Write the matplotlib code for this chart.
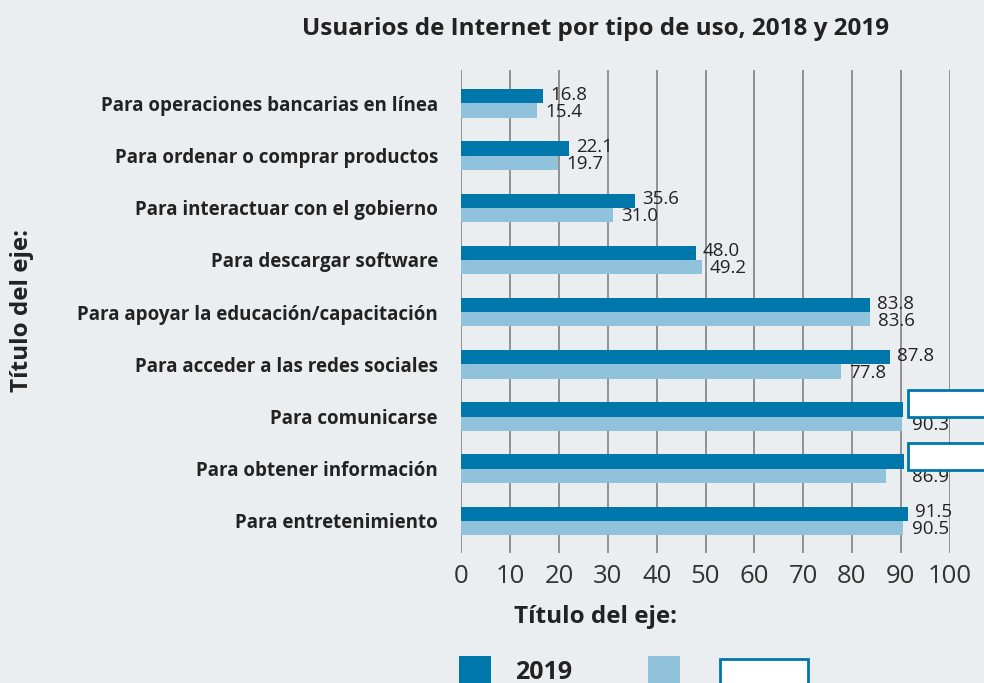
"""Usuarios de Internet por tipo de uso, 2018 y 2019 (horizontal grouped bars)."""

import matplotlib

matplotlib.use("Agg")
import matplotlib.pyplot as plt  # noqa: E402
from matplotlib.patches import Rectangle  # noqa: E402

categories = [
    "Para entretenimiento",
    "Para obtener información",
    "Para comunicarse",
    "Para acceder a las redes sociales",
    "Para apoyar la educación/capacitación",
    "Para descargar software",
    "Para interactuar con el gobierno",
    "Para ordenar o comprar productos",
    "Para operaciones bancarias en línea",
]
vals_2019 = [91.5, 90.6, 90.5, 87.8, 83.8, 48.0, 35.6, 22.1, 16.8]
vals_2018 = [90.5, 86.9, 90.3, 77.8, 83.6, 49.2, 31.0, 19.7, 15.4]
# 2019 labels hidden behind the empty boxes in the original
show_2019 = [True, False, False, True, True, True, True, True, True]
xticks = [0, 10, 20, 30, 40, 50, 60, 70, 80, 90, 100]

BG = "#EBEEF0"
DARK = "#0077AA"
LIGHT = "#90C2DB"
TXT = "#222222"
FONT = ["Open Sans", "DejaVu Sans"]

plt.rcParams["font.family"] = FONT

fig = plt.figure(figsize=(9.84, 6.83), dpi=100, facecolor=BG)
ax = fig.add_axes([0.469, 0.190, 0.496, 0.7075])
ax.set_facecolor(BG)

h = 0.272
y = list(range(len(categories)))
ax.barh([i + h / 2 for i in y], vals_2019, h, color=DARK, zorder=3)
ax.barh([i - h / 2 for i in y], vals_2018, h, color=LIGHT, zorder=3)

for i, (a, b, s) in enumerate(zip(vals_2019, vals_2018, show_2019)):
    if s:
        ax.annotate(f"{a:.1f}", (a, i + h / 2), xytext=(5, 1), textcoords="offset points",
                    ha="left", va="center", fontsize=13.5, color=TXT, zorder=4)
    # light label pushed right of the dark bar where the box sits beside it
    bx = b if s else max(a, b)
    ax.annotate(f"{b:.1f}", (bx, i - h / 2), xytext=(6, -1), textcoords="offset points",
                ha="left", va="center", fontsize=13.5, color=TXT, zorder=4)

ax.set_xlim(0, 100)
ax.set_ylim(-0.62, 8.64)
ax.set_xticks(xticks)
ax.set_xticklabels([str(t) for t in xticks], fontsize=18.5, color="#333333")
ax.set_yticks(y)
ax.set_yticklabels(categories, fontsize=13.5, fontweight="bold", color=TXT)
ax.tick_params(axis="both", length=0)
ax.tick_params(axis="x", pad=8)
ax.tick_params(axis="y", pad=17)
ax.grid(axis="x", color="#8A8A8A", lw=1.3, zorder=1)
for sp in ax.spines.values():
    sp.set_visible(False)

fig.text(0.605, 0.958, "Usuarios de Internet por tipo de uso, 2018 y 2019",
         ha="center", va="center", fontsize=17.5, fontweight="bold", color=TXT)
fig.text(0.605, 0.097, "Título del eje:", ha="center", va="center",
         fontsize=17.5, fontweight="bold", color=TXT)
fig.text(0.022, 0.545, "Título del eje:", ha="center", va="center", rotation=90,
         fontsize=17.5, fontweight="bold", color=TXT)

# empty text boxes beside the two rows
for yb in (0.390, 0.312):
    fig.patches.append(Rectangle((0.9228, yb), 0.1, 0.0388, transform=fig.transFigure,
                                 facecolor="white", edgecolor=DARK, lw=2, zorder=5))

# legend along the bottom edge (clipped by the figure)
fig.patches.append(Rectangle((459 / 984, -0.02), 32 / 984, 0.059, transform=fig.transFigure,
                             facecolor=DARK, edgecolor="none"))
fig.text(515 / 984, 0.016, "2019", ha="left", va="center", fontsize=18,
         fontweight="bold", color=TXT)
fig.patches.append(Rectangle((648 / 984, -0.02), 32 / 984, 0.059, transform=fig.transFigure,
                             facecolor=LIGHT, edgecolor="none"))
fig.patches.append(Rectangle((720 / 984, -0.02), 88 / 984, 0.055, transform=fig.transFigure,
                             facecolor="white", edgecolor=DARK, lw=2))

fig.savefig("out.png", dpi=100, facecolor=BG)
